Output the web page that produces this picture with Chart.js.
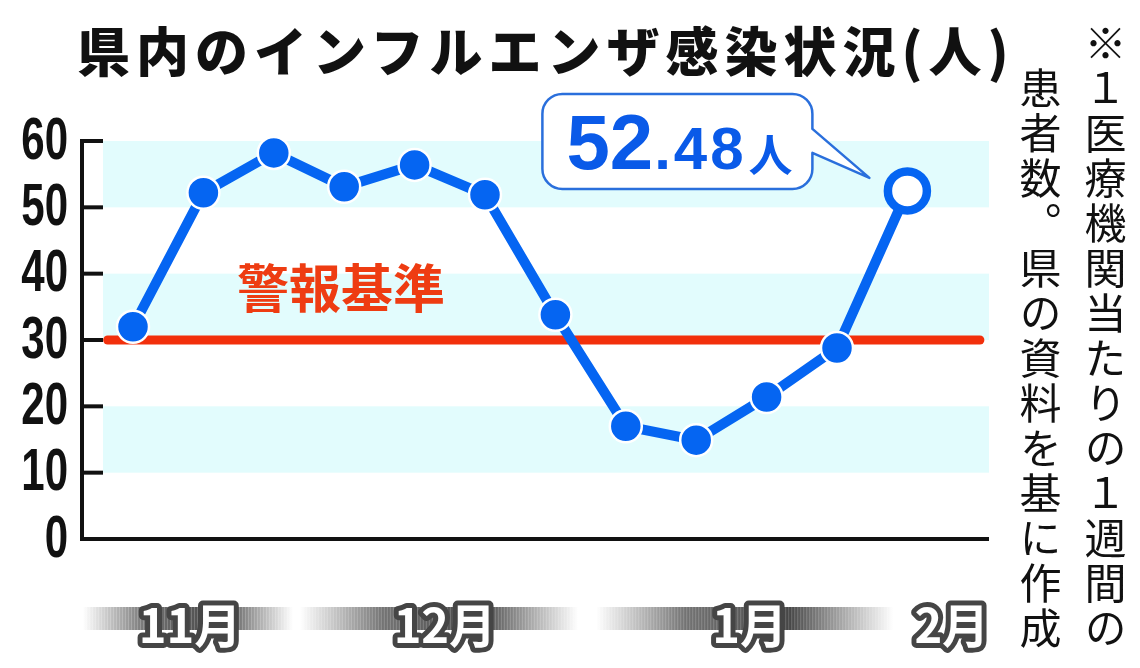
<!DOCTYPE html>
<html lang="ja">
<head>
<meta charset="utf-8">
<title>県内のインフルエンザ感染状況</title>
<script src="https://cdn.jsdelivr.net/npm/chart.js@4.4.1/dist/chart.umd.min.js"></script>
<style>
  html, body { margin: 0; padding: 0; background: #fff; }
  #wrap { position: relative; width: 1140px; height: 668px; overflow: hidden; }
  #chart { position: absolute; left: 0; top: 0; }
  #title {
    position: absolute; left: 77px; top: 23px;
    font: 900 53px/53px 'Noto Sans CJK JP', sans-serif;
    letter-spacing: 6px; white-space: nowrap; color: #111;
  }
  #note {
    position: absolute; left: 1008px; top: 18px; width: 130px; height: 634px;
    writing-mode: vertical-rl; text-orientation: upright;
    font: 400 42px/65px 'Noto Sans CJK JP', sans-serif;
    letter-spacing: 3px; text-align: end; color: #111;
  }
</style>
</head>
<body>
<div id="wrap">
  <canvas id="chart" width="1140" height="668"></canvas>
  <div id="title">県内のインフルエンザ感染状況(人)</div>
  <div id="note">※１医療機関当たりの１週間の<br>患者数。県の資料を基に作成</div>
</div>
<script>
// ========================
// Data
// ========================
const weekIdx = [0, 1, 2, 3, 4, 5, 6, 7, 8, 9, 10, 11];
const patients = [32.0, 52.2, 58.2, 53.1, 56.4, 51.9, 33.8, 17.0, 14.9, 21.4, 28.8, 52.48];
const monthPos = [0.81, 4.43, 8.76, 11.63];
const monthLabels = ['11月', '12月', '1月', '2月'];
const monthBarSpans = [[-0.71, 2.27], [2.37, 6.32], [6.58, 10.8]];
const bandRanges = [[10, 20], [30, 40], [50, 60]];
const alertLevel = 30;
const alertSpan = [-0.36, 12.03];

const BLUE = '#0565f2';
const RED = '#f2300c';

// ========================
// Plugins
// ========================
const backdrop = {
    id: 'backdrop',
    beforeDraw(chart) {
        const { ctx, chartArea, scales: { x, y } } = chart;
        ctx.save();
        // light bands
        ctx.fillStyle = '#e2fcfd';
        const left = y.right + 21;
        bandRanges.forEach(([lo, hi]) => {
            const top = y.getPixelForValue(hi);
            const bot = y.getPixelForValue(lo);
            ctx.fillRect(left, top, chartArea.right + 1 - left, bot - top);
        });
        // grey bars behind month labels
        const barTop = x.top + 68;
        monthBarSpans.forEach(([a, b]) => {
            const x0 = x.getPixelForValue(a);
            const x1 = x.getPixelForValue(b);
            const g = ctx.createLinearGradient(x0, 0, x1, 0);
            g.addColorStop(0, 'rgba(80,80,80,0)');
            g.addColorStop(0.3, 'rgba(80,80,80,0.8)');
            g.addColorStop(0.65, 'rgba(70,70,70,1)');
            g.addColorStop(1, 'rgba(80,80,80,0)');
            ctx.fillStyle = g;
            ctx.fillRect(x0, barTop, x1 - x0, 23);
            ctx.fillStyle = 'rgba(255,255,255,0.2)';
            for (let px = x0; px < x1; px += 3) ctx.fillRect(px, barTop, 1, 23);
        });
        ctx.restore();
        ctx.lineJoin = 'round';
    }
};

// y axis: inner tick marks and condensed labels
const yAxisDeco = {
    id: 'yAxisDeco',
    beforeDatasetsDraw(chart) {
        const { ctx, scales: { y } } = chart;
        ctx.save();
        ctx.strokeStyle = '#111';
        ctx.lineWidth = 4;
        ctx.fillStyle = '#111';
        ctx.font = 'bold 60px "Liberation Sans", Arial, sans-serif';
        ctx.textAlign = 'right';
        ctx.textBaseline = 'middle';
        y.ticks.forEach(t => {
            const py = y.getPixelForValue(t.value);
            ctx.beginPath();
            ctx.moveTo(y.right - 2, py);
            ctx.lineTo(y.right + 21, py);
            ctx.stroke();
            ctx.save();
            ctx.translate(y.right - 14, py + 1);
            ctx.scale(0.7, 1);
            ctx.fillText(String(t.value), 0, 0);
            ctx.restore();
        });
        ctx.restore();
    }
};

const notes = {
    id: 'notes',
    afterDatasetsDraw(chart) {
        const { ctx, scales: { y } } = chart;
        ctx.save();

        // 警報基準
        const ay = y.getPixelForValue(alertLevel);
        ctx.fillStyle = '#ee3c12';
        ctx.font = 'bold 52px "Noto Sans CJK JP"';
        ctx.textBaseline = 'middle';
        ctx.fillText('警報基準', 237, ay - 52);

        // callout for the latest value
        const pt = chart.getDatasetMeta(0).data[patients.length - 1];
        const px = pt.x, py = pt.y;
        const left = px - 365, right = px - 95, top = py - 97, bottom = py - 2, r = 20;
        ctx.beginPath();
        ctx.moveTo(left + r, top);
        ctx.lineTo(right - r, top);
        ctx.arcTo(right, top, right, top + r, r);
        ctx.lineTo(right, py - 62);
        ctx.lineTo(px - 38, py - 13);
        ctx.lineTo(right, py - 38);
        ctx.lineTo(right, bottom - r);
        ctx.arcTo(right, bottom, right - r, bottom, r);
        ctx.lineTo(left + r, bottom);
        ctx.arcTo(left, bottom, left, bottom - r, r);
        ctx.lineTo(left, top + r);
        ctx.arcTo(left, top, left + r, top, r);
        ctx.closePath();
        ctx.fillStyle = '#fff';
        ctx.fill();
        ctx.strokeStyle = '#2a6fdc';
        ctx.lineWidth = 2.5;
        ctx.lineJoin = 'round';
        ctx.stroke();

        const latest = patients[patients.length - 1];
        const [intPart, decPart] = latest.toFixed(2).split('.');
        const base = py - 22;
        let tx = left + 24;
        ctx.fillStyle = '#0a5ae8';
        ctx.textBaseline = 'alphabetic';
        ctx.font = 'bold 78px "Liberation Sans", Arial, sans-serif';
        ctx.fillText(intPart, tx, base);
        tx += ctx.measureText(intPart).width + 1;
        ctx.font = 'bold 60px "Liberation Sans", Arial, sans-serif';
        ctx.letterSpacing = '3px';
        ctx.fillText('.' + decPart, tx, base);
        tx += ctx.measureText('.' + decPart).width + 2;
        ctx.letterSpacing = '0px';
        ctx.font = 'bold 44px "Noto Sans CJK JP"';
        ctx.fillText('人', tx, base + 3);

        ctx.restore();
    }
};

// ========================
// Chart
// ========================
const ctx = document.getElementById('chart');

new Chart(ctx, {
    type: 'line',
    data: {
        datasets: [
            {
                data: weekIdx.map((w, i) => ({ x: w, y: patients[i] })),
                borderColor: BLUE,
                borderWidth: 10,
                tension: 0,
                clip: false,
                order: 1,
                pointRadius: c => c.dataIndex === patients.length - 1 ? 19.5 : 16,
                pointBorderWidth: c => c.dataIndex === patients.length - 1 ? 8.5 : 2.5,
                pointBackgroundColor: c => c.dataIndex === patients.length - 1 ? '#fff' : BLUE,
                pointBorderColor: c => c.dataIndex === patients.length - 1 ? BLUE : '#fff'
            },
            {
                data: alertSpan.map(v => ({ x: v, y: alertLevel })),
                borderColor: RED,
                borderWidth: 9,
                borderCapStyle: 'round',
                pointRadius: 0,
                clip: false,
                order: 2
            }
        ]
    },
    options: {
        responsive: false,
        animation: false,
        events: [],
        layout: { padding: { top: 141, right: 152, bottom: 0, left: 0 } },
        plugins: {
            legend: { display: false },
            tooltip: { enabled: false }
        },
        scales: {
            x: {
                type: 'linear',
                min: -0.7244,
                max: 12.145,
                grid: { display: false },
                border: { display: true, color: '#111', width: 4 },
                afterBuildTicks: s => { s.ticks = monthPos.map(v => ({ value: v })); },
                afterFit: s => { s.height = 129; },
                ticks: {
                    autoSkip: false,
                    maxRotation: 0,
                    padding: 50,
                    color: '#fff',
                    textStrokeColor: '#454545',
                    textStrokeWidth: 10,
                    font: { family: "'Noto Sans CJK JP', sans-serif", size: 47, weight: 'bold' },
                    callback: (v, i) => monthLabels[i]
                }
            },
            y: {
                min: 0,
                max: 60,
                grid: { display: false },
                border: { display: true, color: '#111', width: 4 },
                afterFit: s => { s.width = 82; },
                ticks: { stepSize: 10, autoSkip: false, display: false }
            }
        }
    },
    plugins: [backdrop, yAxisDeco, notes]
});
</script>
</body>
</html>
